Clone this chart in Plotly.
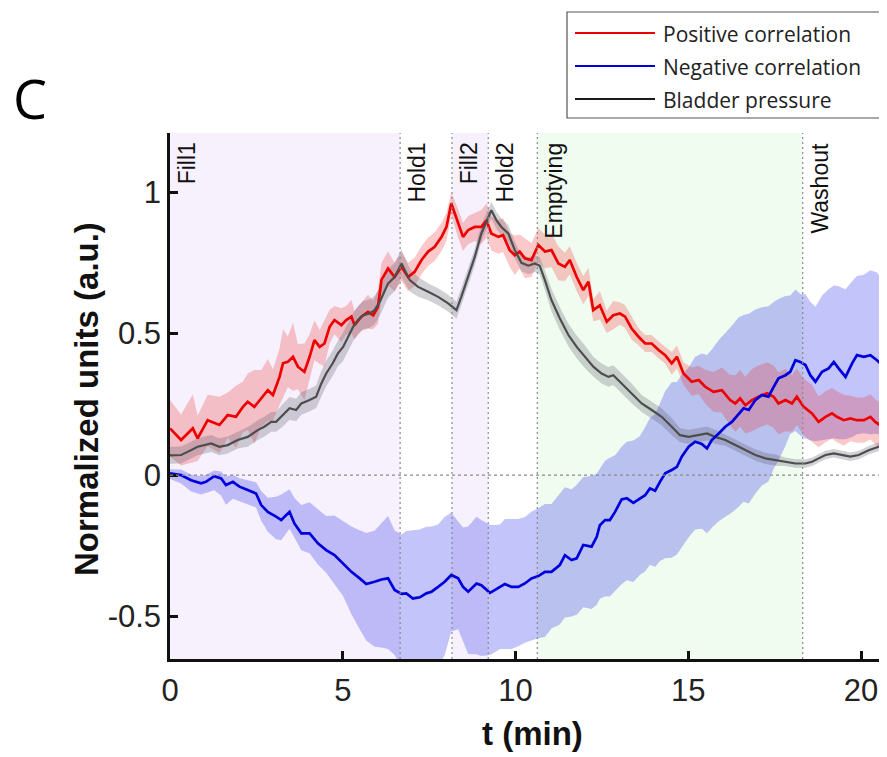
import plotly.graph_objects as go

# ---------------- data ----------------
red_t = [0.00, 0.32, 0.66, 0.80, 1.09, 1.43, 1.67, 1.91, 2.11, 2.25, 2.44, 2.64, 2.83, 2.98, 3.17, 3.27, 3.41, 3.56,
         3.70, 3.89, 4.04, 4.18, 4.33, 4.47, 4.62, 4.76, 4.96, 5.10, 5.25, 5.34, 5.54, 5.73, 5.88, 6.02, 6.12, 6.31,
         6.50, 6.70, 6.89, 7.08, 7.28, 7.47, 7.66, 7.86, 8.00, 8.14, 8.34, 8.48, 8.63, 8.82, 9.01, 9.16, 9.30, 9.50,
         9.64, 9.83, 9.98, 10.12, 10.27, 10.46, 10.66, 10.85, 11.04, 11.24, 11.43, 11.57, 11.77, 11.96, 12.11, 12.25,
         12.44, 12.64, 12.83, 13.02, 13.17, 13.36, 13.56, 13.75, 13.94, 14.14, 14.33, 14.52, 14.67, 14.86, 15.10,
         15.30, 15.49, 15.73, 15.97, 16.21, 16.36, 16.50, 16.65, 16.84, 17.03, 17.28, 17.47, 17.61, 17.81, 18.00,
         18.14, 18.34, 18.58, 18.77, 18.97, 19.16, 19.30, 19.50, 19.69, 19.88, 20.08, 20.27, 20.41, 20.61, 20.80]
red_mean = [0.165, 0.124, 0.165, 0.130, 0.194, 0.177, 0.212, 0.206, 0.241, 0.259, 0.241, 0.271, 0.300, 0.283, 0.347,
            0.395, 0.400, 0.418, 0.383, 0.365, 0.418, 0.477, 0.453, 0.465, 0.524, 0.548, 0.530, 0.548, 0.560, 0.530,
            0.560, 0.577, 0.565, 0.595, 0.690, 0.730, 0.700, 0.736, 0.700, 0.718, 0.760, 0.790, 0.807, 0.842, 0.877,
            0.960, 0.889, 0.842, 0.866, 0.877, 0.877, 0.900, 0.854, 0.842, 0.848, 0.795, 0.777, 0.790, 0.766, 0.760,
            0.813, 0.790, 0.795, 0.748, 0.736, 0.760, 0.700, 0.654, 0.683, 0.583, 0.600, 0.542, 0.565, 0.571, 0.560,
            0.518, 0.489, 0.465, 0.465, 0.442, 0.424, 0.395, 0.418, 0.359, 0.330, 0.336, 0.312, 0.294, 0.300, 0.265,
            0.253, 0.271, 0.247, 0.265, 0.277, 0.289, 0.277, 0.253, 0.265, 0.253, 0.277, 0.241, 0.218, 0.188, 0.206,
            0.218, 0.206, 0.194, 0.200, 0.194, 0.194, 0.206, 0.188, 0.171, 0.194]
red_sd = [0.10, 0.09, 0.12, 0.08, 0.09, 0.10, 0.08, 0.11, 0.09, 0.10, 0.13, 0.10, 0.11, 0.09, 0.10, 0.12, 0.09, 0.12,
          0.08, 0.10, 0.08, 0.07, 0.06, 0.08, 0.06, 0.05, 0.06, 0.05, 0.06, 0.05, 0.05, 0.06, 0.05, 0.06, 0.06, 0.06,
          0.05, 0.05, 0.05, 0.05, 0.05, 0.05, 0.05, 0.05, 0.05, 0.04, 0.05, 0.05, 0.05, 0.05, 0.06, 0.06, 0.06, 0.06,
          0.06, 0.06, 0.07, 0.06, 0.07, 0.06, 0.06, 0.06, 0.06, 0.06, 0.05, 0.05, 0.05, 0.05, 0.05, 0.04, 0.05, 0.04,
          0.05, 0.04, 0.04, 0.04, 0.03, 0.03, 0.03, 0.03, 0.03, 0.04, 0.04, 0.04, 0.05, 0.05, 0.06, 0.07, 0.08, 0.09,
          0.10, 0.10, 0.10, 0.11, 0.11, 0.11, 0.11, 0.11, 0.11, 0.10, 0.10, 0.10, 0.10, 0.09, 0.09, 0.09, 0.09, 0.09,
          0.08, 0.08, 0.08, 0.08, 0.08, 0.08, 0.08]

gray_t = [0.00, 0.32, 0.51, 0.80, 1.19, 1.43, 1.67, 1.96, 2.25, 2.54, 2.73, 2.93, 3.07, 3.27, 3.46, 3.65, 3.80, 4.04,
          4.23, 4.38, 4.52, 4.71, 4.86, 5.01, 5.15, 5.30, 5.44, 5.59, 5.78, 5.92, 6.07, 6.31, 6.50, 6.70, 6.94, 7.18,
          7.47, 7.76, 8.05, 8.29, 8.43, 8.63, 8.82, 9.01, 9.16, 9.30, 9.45, 9.59, 9.79, 9.98, 10.17, 10.37, 10.56,
          10.70, 10.85, 11.04, 11.28, 11.53, 11.77, 12.01, 12.25, 12.49, 12.69, 12.83, 13.07, 13.36, 13.65, 13.94,
          14.23, 14.52, 14.76, 15.01, 15.30, 15.54, 15.78, 16.07, 16.36, 16.65, 16.94, 17.23, 17.52, 17.81, 18.10,
          18.39, 18.58, 18.77, 18.97, 19.21, 19.45, 19.69, 19.93, 20.22, 20.51, 20.80]
gray_mean = [0.070, 0.071, 0.082, 0.100, 0.112, 0.100, 0.106, 0.124, 0.135, 0.159, 0.171, 0.188, 0.188, 0.212, 0.236,
             0.230, 0.253, 0.265, 0.277, 0.324, 0.359, 0.395, 0.430, 0.453, 0.489, 0.524, 0.548, 0.565, 0.571, 0.583,
             0.612, 0.677, 0.700, 0.748, 0.689, 0.665, 0.648, 0.630, 0.607, 0.583, 0.630, 0.700, 0.771, 0.854, 0.900,
             0.936, 0.900, 0.877, 0.854, 0.795, 0.750, 0.740, 0.748, 0.740, 0.689, 0.618, 0.554, 0.495, 0.453, 0.418,
             0.383, 0.359, 0.347, 0.353, 0.324, 0.289, 0.253, 0.230, 0.206, 0.171, 0.141, 0.135, 0.141, 0.147, 0.135,
             0.124, 0.106, 0.088, 0.071, 0.059, 0.053, 0.047, 0.041, 0.041, 0.047, 0.059, 0.071, 0.077, 0.071, 0.065,
             0.071, 0.088, 0.100, 0.112]
gray_sd = [0.030, 0.030, 0.030, 0.030, 0.030, 0.030, 0.030, 0.030, 0.035, 0.035, 0.035, 0.035, 0.035, 0.040, 0.040,
           0.040, 0.040, 0.040, 0.040, 0.045, 0.045, 0.045, 0.045, 0.050, 0.050, 0.050, 0.050, 0.050, 0.050, 0.050,
           0.050, 0.050, 0.050, 0.050, 0.040, 0.035, 0.030, 0.030, 0.030, 0.030, 0.030, 0.030, 0.030, 0.030, 0.030,
           0.030, 0.030, 0.030, 0.030, 0.030, 0.030, 0.030, 0.030, 0.030, 0.035, 0.040, 0.040, 0.040, 0.040, 0.040,
           0.035, 0.035, 0.035, 0.035, 0.035, 0.035, 0.030, 0.030, 0.030, 0.030, 0.025, 0.025, 0.025, 0.025, 0.025,
           0.020, 0.020, 0.020, 0.020, 0.020, 0.020, 0.015, 0.015, 0.015, 0.015, 0.015, 0.015, 0.015, 0.015, 0.015,
           0.015, 0.015, 0.015, 0.015]

blue_t = [0.00, 0.32, 0.61, 0.90, 1.04, 1.28, 1.48, 1.62, 1.82, 2.01, 2.25, 2.49, 2.64, 2.83, 3.07, 3.22, 3.46, 3.60,
          3.80, 4.04, 4.28, 4.52, 4.76, 5.01, 5.25, 5.49, 5.68, 5.92, 6.12, 6.31, 6.50, 6.70, 6.84, 7.03, 7.23, 7.42,
          7.57, 7.76, 7.95, 8.14, 8.34, 8.48, 8.63, 8.87, 9.01, 9.26, 9.40, 9.55, 9.69, 9.88, 10.08, 10.27, 10.46,
          10.66, 10.85, 11.04, 11.28, 11.43, 11.62, 11.77, 11.96, 12.20, 12.35, 12.44, 12.59, 12.73, 12.88, 13.07,
          13.22, 13.41, 13.60, 13.75, 13.89, 14.04, 14.18, 14.33, 14.52, 14.67, 14.81, 15.01, 15.20, 15.39, 15.54,
          15.68, 15.88, 16.07, 16.26, 16.46, 16.60, 16.75, 16.94, 17.13, 17.32, 17.47, 17.61, 17.81, 17.95, 18.10,
          18.24, 18.39, 18.53, 18.68, 18.87, 19.06, 19.21, 19.35, 19.55, 19.74, 19.88, 20.08, 20.27, 20.46, 20.66,
          20.80]
blue_mean = [0.006, 0.000, -0.018, -0.029, -0.024, -0.004, -0.012, -0.035, -0.024, -0.041, -0.053, -0.065, -0.106,
             -0.130, -0.147, -0.159, -0.130, -0.171, -0.206, -0.206, -0.241, -0.265, -0.283, -0.312, -0.342, -0.365,
             -0.385, -0.377, -0.369, -0.365, -0.406, -0.420, -0.418, -0.436, -0.432, -0.418, -0.412, -0.395, -0.377,
             -0.353, -0.365, -0.395, -0.412, -0.383, -0.389, -0.416, -0.406, -0.395, -0.385, -0.395, -0.395, -0.383,
             -0.365, -0.357, -0.342, -0.342, -0.318, -0.283, -0.300, -0.294, -0.247, -0.253, -0.218, -0.177, -0.159,
             -0.159, -0.130, -0.086, -0.082, -0.098, -0.082, -0.071, -0.047, -0.055, -0.024, 0.006, 0.018, 0.029,
             0.065, 0.100, 0.118, 0.110, 0.094, 0.124, 0.147, 0.171, 0.188, 0.218, 0.236, 0.230, 0.265, 0.283, 0.277,
             0.312, 0.342, 0.353, 0.365, 0.406, 0.400, 0.389, 0.353, 0.330, 0.365, 0.377, 0.400, 0.377, 0.347, 0.395,
             0.424, 0.418, 0.424, 0.406, 0.383, 0.371]
blue_up = [0.015, 0.020, 0.020, 0.025, 0.025, 0.020, 0.025, 0.030, 0.025, 0.030, 0.035, 0.040, 0.050, 0.050, 0.070,
           0.090, 0.080, 0.090, 0.100, 0.110, 0.120, 0.120, 0.140, 0.150, 0.160, 0.170, 0.180, 0.180, 0.200, 0.220,
           0.210, 0.210, 0.220, 0.240, 0.240, 0.235, 0.230, 0.220, 0.230, 0.220, 0.200, 0.210, 0.230, 0.236, 0.230,
           0.240, 0.230, 0.220, 0.230, 0.240, 0.240, 0.235, 0.235, 0.240, 0.240, 0.240, 0.250, 0.240, 0.250, 0.260,
           0.240, 0.250, 0.224, 0.200, 0.210, 0.220, 0.200, 0.186, 0.200, 0.220, 0.220, 0.240, 0.250, 0.270, 0.280,
           0.290, 0.310, 0.300, 0.290, 0.280, 0.300, 0.320, 0.330, 0.320, 0.330, 0.330, 0.340, 0.340, 0.330, 0.340,
           0.320, 0.310, 0.320, 0.300, 0.280, 0.280, 0.270, 0.250, 0.240, 0.250, 0.260, 0.265, 0.270, 0.280, 0.270,
           0.290, 0.310, 0.290, 0.280, 0.290, 0.300, 0.310, 0.300, 0.310]
blue_down = [0.020, 0.030, 0.040, 0.040, 0.040, 0.050, 0.060, 0.070, 0.060, 0.050, 0.050, 0.050, 0.055, 0.070, 0.080,
             0.070, 0.060, 0.050, 0.060, 0.070, 0.075, 0.080, 0.100, 0.115, 0.150, 0.180, 0.200, 0.230, 0.240, 0.250,
             0.230, 0.260, 0.280, 0.280, 0.280, 0.280, 0.280, 0.280, 0.260, 0.200, 0.180, 0.190, 0.220, 0.250, 0.250,
             0.220, 0.220, 0.220, 0.230, 0.220, 0.210, 0.210, 0.220, 0.220, 0.230, 0.200, 0.210, 0.220, 0.200, 0.200,
             0.220, 0.220, 0.240, 0.260, 0.270, 0.270, 0.280, 0.300, 0.290, 0.280, 0.270, 0.270, 0.270, 0.270, 0.280,
             0.300, 0.310, 0.310, 0.320, 0.320, 0.310, 0.300, 0.300, 0.310, 0.310, 0.320, 0.320, 0.330, 0.330, 0.330,
             0.330, 0.320, 0.300, 0.290, 0.290, 0.250, 0.220, 0.250, 0.260, 0.260, 0.230, 0.210, 0.240, 0.250, 0.270,
             0.250, 0.220, 0.260, 0.280, 0.270, 0.280, 0.260, 0.250, 0.236]

phase_names = ["Fill1", "Hold1", "Fill2", "Hold2", "Emptying", "Washout"]
phase_starts = [0.0, 6.66, 8.16, 9.21, 10.63, 18.31]
phase_colors = ["#f6f1fd", "#ffffff", "#f6f1fd", "#ffffff", "#f1fcf1", "#ffffff"]
x_end = 20.75

xtick_vals = [0, 5, 10, 15, 20]
xtick_text = ["0", "5", "10", "15", "20"]
ytick_vals = [-0.5, 0, 0.5, 1]
ytick_text = ["-0.5", "0", "0.5", "1"]

series_names = ["Positive correlation", "Negative correlation", "Bladder pressure"]
series_colors = ["#ee0000", "#0000dd", "#1a1a1a"]

# ---------------- figure ----------------
fig = go.Figure()


def band(t, lo, hi, color):
    fig.add_trace(go.Scatter(x=list(t) + list(t)[::-1], y=list(hi) + list(lo)[::-1], fill="toself",
                             fillcolor=color, line=dict(width=0), mode="lines", hoverinfo="skip",
                             showlegend=False))


band(blue_t, [m - d for m, d in zip(blue_mean, blue_down)], [m + u for m, u in zip(blue_mean, blue_up)],
     "rgba(60,65,235,0.31)")
band(red_t, [m - s for m, s in zip(red_mean, red_sd)], [m + s for m, s in zip(red_mean, red_sd)],
     "rgba(240,30,30,0.24)")
band(gray_t, [m - s for m, s in zip(gray_mean, gray_sd)], [m + s for m, s in zip(gray_mean, gray_sd)],
     "rgba(90,90,105,0.27)")

fig.add_trace(go.Scatter(x=red_t, y=red_mean, mode="lines", line=dict(color="#ee0000", width=2.7),
                         name=series_names[0], showlegend=False))
fig.add_trace(go.Scatter(x=gray_t, y=gray_mean, mode="lines", line=dict(color="#4d4d4d", width=2.2),
                         name=series_names[2], showlegend=False))
fig.add_trace(go.Scatter(x=blue_t, y=blue_mean, mode="lines", line=dict(color="#0000dd", width=2.7),
                         name=series_names[1], showlegend=False))

shapes = []
ends = phase_starts[1:] + [x_end]
for s, e, c in zip(phase_starts, ends, phase_colors):
    shapes.append(dict(type="rect", xref="x", yref="paper", x0=s, x1=e, y0=0, y1=1, fillcolor=c,
                       line=dict(width=0), layer="below"))
for s in phase_starts[1:]:
    shapes.append(dict(type="line", xref="x", yref="paper", x0=s, x1=s, y0=0, y1=1,
                       line=dict(color="#8a8a8a", width=1.2, dash="2px,3px"), layer="above"))
shapes.append(dict(type="line", xref="paper", yref="y", x0=0, x1=1, y0=0, y1=0,
                   line=dict(color="#8a8a8a", width=1.2, dash="3px,3px"), layer="above"))

annotations = []
for name, s in zip(phase_names, phase_starts):
    annotations.append(dict(x=s, xref="x", y=0.986, yref="paper", text=name, textangle=-90, showarrow=False,
                            xanchor="center", yanchor="top", xshift=17,
                            font=dict(family="Liberation Sans, Arial", size=23, color="#111")))

# custom legend box (positions in page pixels, converted to paper coordinates)
L = 170.0
W = 717.0
B = 659.0
H = 526.0


def px(x):
    return (x - L) / W


def py(y):
    return (B - y) / H


shapes.append(dict(type="rect", xref="paper", yref="paper", x0=px(567), x1=px(885), y0=py(118), y1=py(12),
                   line=dict(color="#555", width=1.2), fillcolor="white", layer="above"))
for i, (nm, col) in enumerate(zip(series_names, series_colors)):
    yy = 33 + i * 33
    shapes.append(dict(type="line", xref="paper", yref="paper", x0=px(575), x1=px(655), y0=py(yy), y1=py(yy),
                       line=dict(color=col, width=2.2), layer="above"))
    annotations.append(dict(x=px(661), y=py(yy + 1), xref="paper", yref="paper", text=nm, showarrow=False,
                            xanchor="left", yanchor="middle",
                            font=dict(family="Open Sans", size=21, color="#222")))

annotations.append(dict(x=px(30), y=py(98), xref="paper", yref="paper", text="C", showarrow=False,
                        xanchor="center", yanchor="middle", font=dict(family="Open Sans", size=54, color="#000")))
annotations.append(dict(x=px(86), y=py(399), xref="paper", yref="paper", text="<b>Normalized units (a.u.)</b>",
                        textangle=-90, showarrow=False, xanchor="center", yanchor="middle",
                        font=dict(family="Liberation Sans, Arial", size=33, color="#111")))
annotations.append(dict(x=px(532), y=py(733), xref="paper", yref="paper", text="<b>t (min)</b>",
                        showarrow=False, xanchor="center", yanchor="middle",
                        font=dict(family="Liberation Sans, Arial", size=33, color="#111")))

# page body has an 8px margin: figure is 879x749 so that the plot area lands on the reference pixels
fig.update_layout(
    width=879, height=749,
    margin=dict(l=162, r=0, t=125, b=98),
    paper_bgcolor="white", plot_bgcolor="white",
    showlegend=False,
    shapes=shapes, annotations=annotations,
    xaxis=dict(range=[0, x_end], tickvals=xtick_vals, ticktext=xtick_text, ticks="inside", ticklen=8,
               tickwidth=2.5, tickcolor="#111", showline=True, linecolor="#111", linewidth=2.5,
               showgrid=False, zeroline=False, ticklabelstandoff=2,
               tickfont=dict(family="Liberation Sans, Arial", size=31, color="#222")),
    yaxis=dict(range=[-0.650, 1.209], tickvals=ytick_vals, ticktext=ytick_text, ticks="inside", ticklen=8,
               tickwidth=2.5, tickcolor="#111", showline=True, linecolor="#111", linewidth=2.5,
               showgrid=False, zeroline=False, ticklabelstandoff=0,
               tickfont=dict(family="Liberation Sans, Arial", size=31, color="#222")),
)

fig.write_html("out.html")
